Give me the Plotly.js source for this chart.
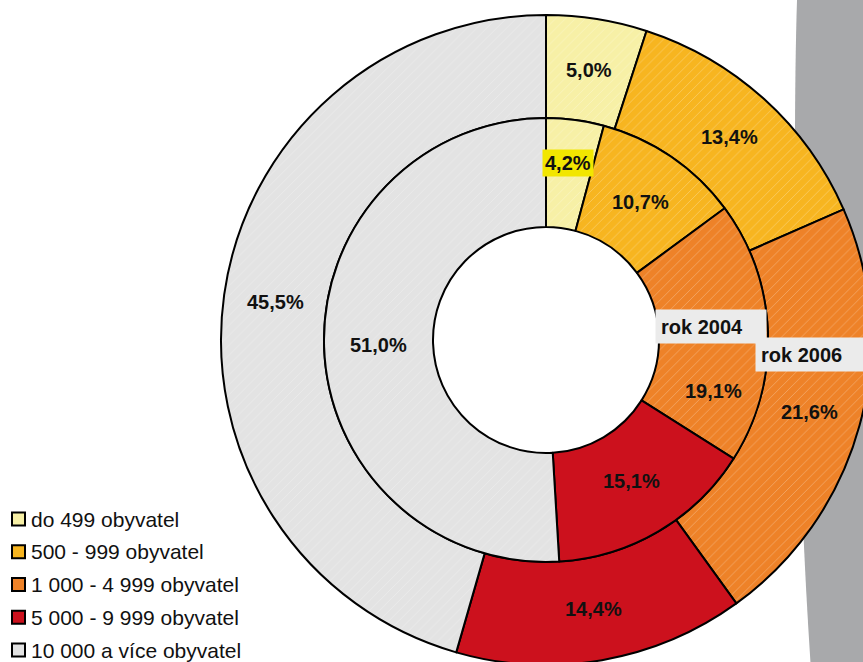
<!DOCTYPE html>
<html>
<head>
<meta charset="utf-8">
<script src="https://cdn.plot.ly/plotly-3.0.1.min.js"></script>
<style>
html,body{margin:0;padding:0;overflow:hidden;background:#fff;}
#chart{width:880px;height:670px;}
</style>
</head>
<body>
<div id="chart"></div>
<script>
// ---- data ----
const categories = ["do 499 obyvatel", "500 - 999 obyvatel", "1 000 - 4 999 obyvatel", "5 000 - 9 999 obyvatel", "10 000 a více obyvatel"];
const values2006 = [5.0, 13.4, 21.6, 14.4, 45.5];   // outer ring
const values2004 = [4.2, 10.7, 19.1, 15.1, 51.0];   // inner ring
const ringNames = ["rok 2004", "rok 2006"];
const colors = ["#F7F0A6", "#F7B520", "#EE8228", "#CC111D", "#E3E3E3"];
const hatch = ["/", "/", "/", "", "/"];

// ---- geometry (pixels) ----
const W = 880, H = 670;
const cx = 546, cy = 340;
const rOuter = 325, rMid = 222, rHole = 113;

function px2x(p){ return p / W; }
function px2y(p){ return 1 - p / H; }

function pieTrace(vals, r, hole, name){
  return {
    type: "pie",
    name: name,
    labels: categories,
    values: vals,
    sort: false,
    direction: "clockwise",
    rotation: 0,
    hole: hole,
    textinfo: "none",
    hoverinfo: "label+value",
    showlegend: false,
    marker: {
      colors: colors,
      line: {color: "#000", width: 2},
      pattern: {shape: hatch, bgcolor: colors, fgcolor: "#ffffff", fgopacity: 0.3, size: 7, solidity: 0.12, fillmode: "replace"}
    },
    domain: {
      x: [px2x(cx - r), px2x(cx + r)],
      y: [px2y(cy + r), px2y(cy - r)]
    }
  };
}

const traces = [
  pieTrace(values2006, rOuter, rMid / rOuter, ringNames[1]),
  pieTrace(values2004, rMid, rHole / rMid, ringNames[0])
];

// ---- percentage labels at slice mid-angles ----
const annotations = [];
const fmt = v => v.toFixed(1).replace(".", ",") + "%";
function ringLabels(vals, rIn, rOut, nudges){
  const total = vals.reduce((a,b)=>a+b, 0);
  let cum = 0;
  const rm = (rIn + rOut) / 2;
  vals.forEach((v, i) => {
    const mid = (cum + v / 2) / total * 2 * Math.PI;
    cum += v;
    const x = cx + rm * Math.sin(mid);
    const y = cy - rm * Math.cos(mid) + (nudges[i] || 0);
    const a = {
      x: px2x(x), y: px2y(y), xref: "paper", yref: "paper",
      text: "<b>" + fmt(v) + "</b>", showarrow: false,
      font: {family: "Liberation Sans, Arial, sans-serif", size: 20, color: "#111"},
      xanchor: "center", yanchor: "middle"
    };
    if (i === 0 && nudges.highlight) { a.bgcolor = "#F2E600"; a.borderpad = 2; }
    annotations.push(a);
  });
}
ringLabels(values2006, rMid, rOuter, [0,0,0,0,0]);
const innerNudges = [-11, 0, 57, -3, 0];
innerNudges.highlight = true;
ringLabels(values2004, rHole, rMid, innerNudges);

// ring name tags
annotations.push({
  x: px2x(655), y: px2y(326.5), xref: "paper", yref: "paper",
  text: "<b>" + ringNames[0] + "</b>", showarrow: false, align: "left",
  xanchor: "left", yanchor: "middle", width: 100, height: 23, borderpad: 5,
  bgcolor: "#EBEBEB",
  font: {family: "Liberation Sans, Arial, sans-serif", size: 20, color: "#111"}
});
annotations.push({
  x: px2x(755), y: px2y(354.5), xref: "paper", yref: "paper",
  text: "<b>" + ringNames[1] + "</b>", showarrow: false, align: "left",
  xanchor: "left", yanchor: "middle", width: 110, height: 23, borderpad: 5,
  bgcolor: "#EBEBEB",
  font: {family: "Liberation Sans, Arial, sans-serif", size: 20, color: "#111"}
});

// ---- custom legend ----
const shapes = [
  { // grey backdrop at right
    type: "path", xref: "paper", yref: "paper", layer: "below",
    path: "M " + px2x(797) + "," + px2y(0) +
          " C " + px2x(792) + "," + px2y(160) + " " + px2x(796) + "," + px2y(450) + " " + px2x(811) + "," + px2y(670) +
          " L " + px2x(880) + "," + px2y(670) + " L " + px2x(880) + "," + px2y(0) + " Z",
    fillcolor: "#A8A9AB", line: {width: 0}
  }
];
categories.forEach((c, i) => {
  const yc = 519 + i * 32.75;
  shapes.push({
    type: "rect", xref: "paper", yref: "paper",
    x0: px2x(12), x1: px2x(25), y0: px2y(yc + 6.5), y1: px2y(yc - 6.5),
    fillcolor: colors[i], line: {color: "#000", width: 2}
  });
  annotations.push({
    x: px2x(29), y: px2y(yc), xref: "paper", yref: "paper",
    text: c, showarrow: false, xanchor: "left", yanchor: "middle",
    font: {family: "Liberation Sans, Arial, sans-serif", size: 21, color: "#111"}
  });
});

const layout = {
  width: W, height: H,
  margin: {l: 0, r: 0, t: 0, b: 0},
  paper_bgcolor: "#fff",
  showlegend: false,
  shapes: shapes,
  annotations: annotations
};

Plotly.newPlot("chart", traces, layout, {displayModeBar: false, staticPlot: true});
</script>
</body>
</html>
